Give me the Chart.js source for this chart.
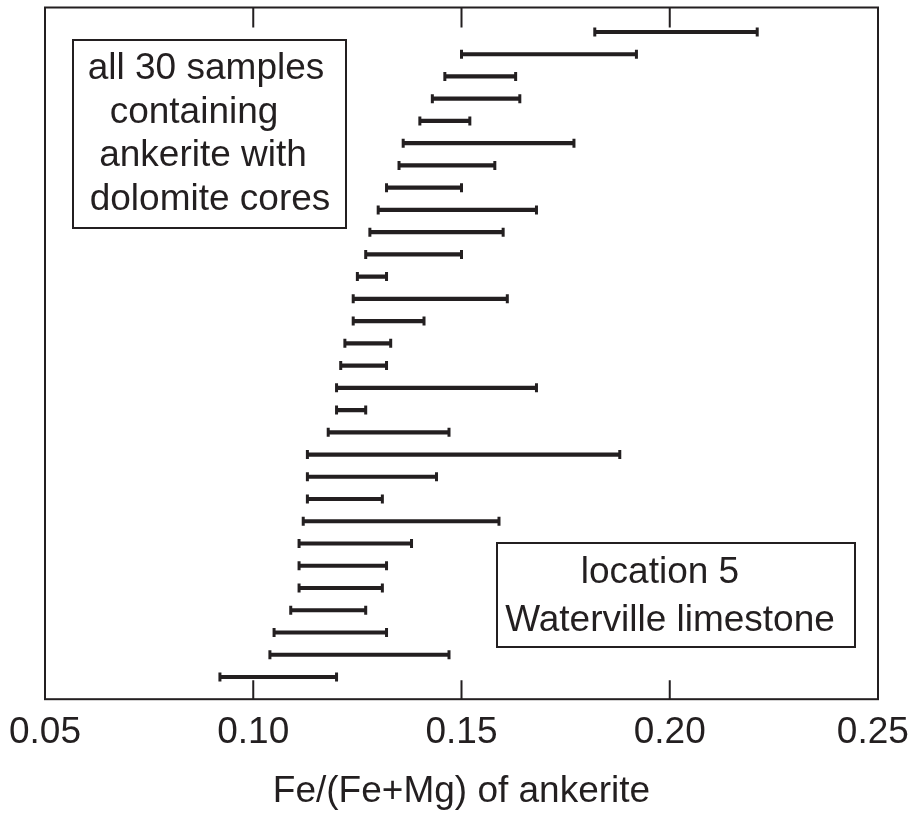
<!DOCTYPE html>
<html>
<head>
<meta charset="utf-8">
<script src="https://cdn.jsdelivr.net/npm/chart.js@4"></script>
<style>
  html, body { margin: 0; padding: 0; background: #fff; }
  #wrap { width: 911px; height: 822px; }
</style>
</head>
<body>
<div id="wrap"><canvas id="ankerite"></canvas></div>
<script>
// samples listed from top of the plot to the bottom
var sampleRank = [30, 29, 28, 27, 26, 25, 24, 23, 22, 21, 20, 19, 18, 17, 16,
                  15, 14, 13, 12, 11, 10, 9, 8, 7, 6, 5, 4, 3, 2, 1];
var lowValues = [0.182, 0.150, 0.146, 0.143, 0.140, 0.136, 0.135, 0.132, 0.130, 0.128,
                 0.127, 0.125, 0.124, 0.124, 0.122, 0.121, 0.120, 0.120, 0.118, 0.113,
                 0.113, 0.113, 0.112, 0.111, 0.111, 0.111, 0.109, 0.105, 0.104, 0.092];
var highValues = [0.221, 0.192, 0.163, 0.164, 0.152, 0.177, 0.158, 0.150, 0.168, 0.160,
                  0.150, 0.132, 0.161, 0.141, 0.133, 0.132, 0.168, 0.127, 0.147, 0.188,
                  0.144, 0.131, 0.159, 0.138, 0.132, 0.131, 0.127, 0.132, 0.147, 0.120];
var xTicks = [0.05, 0.10, 0.15, 0.20, 0.25];

var ink = '#231f20';
var fontFamily = '"Liberation Sans", Arial, Helvetica, sans-serif';

var rangeData = sampleRank.map(function (r, i) {
    return { x: [lowValues[i], highValues[i]], y: r };
});
var lowCaps = sampleRank.map(function (r, i) { return { x: lowValues[i], y: r }; });
var highCaps = sampleRank.map(function (r, i) { return { x: highValues[i], y: r }; });

// frame, inward ticks and the two text boxes
var framePlugin = {
    id: 'frame',
    afterDraw: function (chart) {
        var ctx = chart.ctx;
        var a = chart.chartArea;
        var xs = chart.scales.x;
        ctx.save();
        ctx.strokeStyle = ink;
        ctx.lineWidth = 2;
        ctx.strokeRect(a.left, a.top, a.right - a.left, a.bottom - a.top);
        xTicks.forEach(function (v) {
            var px = xs.getPixelForValue(v);
            if (px <= a.left + 2 || px >= a.right - 2) return;
            ctx.beginPath();
            ctx.moveTo(px, a.top);
            ctx.lineTo(px, a.top + 20);
            ctx.moveTo(px, a.bottom);
            ctx.lineTo(px, a.bottom - 19);
            ctx.stroke();
        });

        ctx.fillStyle = '#fff';
        ctx.fillRect(73, 40, 273, 188);
        ctx.strokeRect(73, 40, 273, 188);
        ctx.fillRect(497, 543, 358, 104);
        ctx.strokeRect(497, 543, 358, 104);

        ctx.fillStyle = ink;
        ctx.font = '37px ' + fontFamily;
        ctx.textAlign = 'center';
        ctx.textBaseline = 'alphabetic';
        ctx.fillText('all 30 samples', 206, 79);
        ctx.fillText('containing', 194, 123);
        ctx.fillText('ankerite with', 203, 166);
        ctx.fillText('dolomite cores', 210, 210);
        ctx.fillText('location 5', 660, 583);
        ctx.fillText('Waterville limestone', 670, 631);
        ctx.restore();
    }
};

var ctx = document.getElementById('ankerite').getContext('2d');
var ankeriteChart = new Chart(ctx, {
    type: 'bar',
    data: {
        datasets: [
            {
                label: 'range',
                data: rangeData,
                backgroundColor: ink,
                borderWidth: 0,
                barThickness: 3.5,
                order: 2
            },
            {
                type: 'scatter',
                label: 'low',
                data: lowCaps,
                pointStyle: 'line',
                rotation: 90,
                radius: 4.5,
                borderColor: ink,
                borderWidth: 3,
                order: 1
            },
            {
                type: 'scatter',
                label: 'high',
                data: highCaps,
                pointStyle: 'line',
                rotation: 90,
                radius: 4.5,
                borderColor: ink,
                borderWidth: 3,
                order: 1
            }
        ]
    },
    options: {
        indexAxis: 'y',
        responsive: true,
        maintainAspectRatio: false,
        animation: false,
        layout: { padding: { left: 45, top: 7, right: 33, bottom: 0 } },
        plugins: {
            legend: { display: false },
            tooltip: { enabled: false }
        },
        scales: {
            x: {
                type: 'linear',
                min: 0.05,
                max: 0.25,
                afterBuildTicks: function (scale) {
                    scale.ticks = xTicks.map(function (v) { return { value: v }; });
                },
                afterFit: function (scale) {
                    // let the end labels hang over the plot edges
                    scale.paddingLeft = 0;
                    scale.paddingRight = 0;
                },
                ticks: {
                    color: ink,
                    padding: 11,
                    maxRotation: 0,
                    font: { family: fontFamily, size: 37 },
                    callback: function (v, i, all) {
                        var s = Number(v).toFixed(2);
                        // nudge the last label so it stays on the page
                        return i === all.length - 1 ? s + ' ' : s;
                    }
                },
                grid: { display: false, drawTicks: false },
                border: { display: false },
                title: {
                    display: true,
                    text: 'Fe/(Fe+Mg) of ankerite',
                    color: ink,
                    font: { family: fontFamily, size: 37 },
                    padding: { top: 4, bottom: 8 }
                }
            },
            y: {
                type: 'linear',
                min: 0,
                max: 31.1,
                offset: false,
                display: false
            }
        }
    },
    plugins: [framePlugin]
});
</script>
</body>
</html>
